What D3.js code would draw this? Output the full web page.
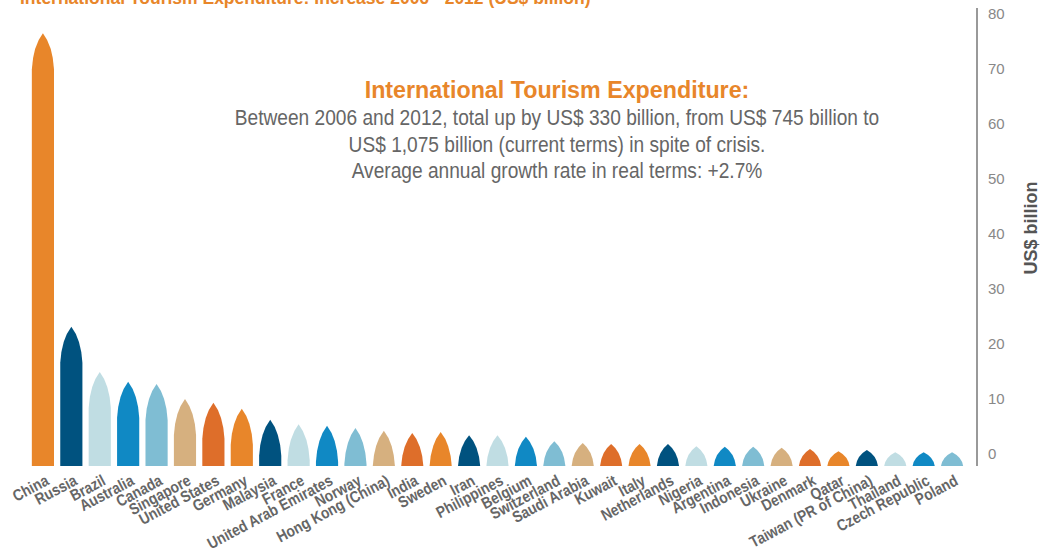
<!DOCTYPE html>
<html lang="en">
<head>
    <meta charset="UTF-8">
    <title>tourism-expenditure</title>
    <script src="https://cdn.jsdelivr.net/npm/d3@7/dist/d3.min.js"></script>
    <style>
        body { margin: 0; background: #fff; }
        svg text { font-family: "Liberation Sans", Arial, sans-serif; }
        .country { font-weight: bold; font-size: 16px; fill: #666; }
        .tick-label { font-size: 15px; fill: #888; }
    </style>
</head>
<body>
<svg class="chart"></svg>
<script>
    var width = 1042, height = 557;

    // countries, ordered by increase
    var countries = ['China', 'Russia', 'Brazil', 'Australia', 'Canada', 'Singapore', 'United States',
        'Germany', 'Malaysia', 'France', 'United Arab Emirates', 'Norway', 'Hong Kong (China)', 'India',
        'Sweden', 'Iran', 'Philippines', 'Belgium', 'Switzerland', 'Saudi Arabia', 'Kuwait', 'Italy',
        'Netherlands', 'Nigeria', 'Argentina', 'Indonesia', 'Ukraine', 'Denmark', 'Qatar',
        'Taiwan (PR of China)', 'Thailand', 'Czech Republic', 'Poland'];

    // increase 2006-2012, US$ billion
    var increase = [78.7, 25.3, 17.1, 15.3, 14.9, 12.2, 11.5, 10.4, 8.4, 7.6, 7.3, 6.9, 6.4, 6.0,
        6.2, 5.6, 5.6, 5.3, 4.5, 4.2, 4.0, 4.0, 4.0, 3.6, 3.5, 3.5, 3.3, 3.1, 2.7, 2.9, 2.5, 2.5, 2.5];

    var yTicks = [0, 10, 20, 30, 40, 50, 60, 70, 80];

    var palette = ['#E8862A', '#00527F', '#C0DDE3', '#1089C4', '#7FBDD3', '#D6B07F', '#DE6E2A'];

    var noteLines = [
        'Between 2006 and 2012, total up by US$ 330 billion, from US$ 745 billion to',
        'US$ 1,075 billion (current terms) in spite of crisis.',
        'Average annual growth rate in real terms: +2.7%'
    ];

    var svg = d3.select('.chart')
        .attr('width', width)
        .attr('height', height);

    var x = d3.scaleBand()
        .domain(countries)
        .range([29, 966])
        .paddingInner(0.22)
        .paddingOuter(0.1);

    var y = d3.scaleLinear()
        .domain([0, 80])
        .range([466, 26]);

    // top title, clipped by the page edge
    svg.append('text')
        .attr('x', 20)
        .attr('y', 4)
        .attr('fill', '#E8862A')
        .attr('font-weight', 'bold')
        .attr('font-size', 17.5)
        .text('International Tourism Expenditure: Increase 2006 - 2012 (US$ billion)');

    // pointed bars
    function barPath(d, i) {
        var x0 = x(countries[i]), w = x.bandwidth(), x1 = x0 + w, xc = x0 + w / 2;
        var base = y(0), top = y(d);
        var a = Math.min(base - top, 36);
        var s = top + a;
        return 'M' + x0 + ',' + base +
            'L' + x0 + ',' + s +
            'Q' + (x0 + w * 0.06) + ',' + (top + a * 0.35) + ' ' + xc + ',' + top +
            'Q' + (x1 - w * 0.06) + ',' + (top + a * 0.35) + ' ' + x1 + ',' + s +
            'L' + x1 + ',' + base + 'Z';
    }

    svg.append('g')
        .selectAll('path')
        .data(increase)
        .enter()
        .append('path')
        .attr('d', barPath)
        .attr('fill', function (d, i) { return palette[i % palette.length]; });

    // country labels (condensed look via horizontal squeeze)
    svg.append('g')
        .selectAll('text')
        .data(countries)
        .enter()
        .append('text')
        .attr('class', 'country')
        .attr('text-anchor', 'end')
        .attr('transform', function (d) {
            return 'translate(' + (x(d) + x.bandwidth() / 2 + 7) + ',484) rotate(-28) scale(0.86,1)';
        })
        .text(function (d) { return d; });

    // right axis
    svg.append('line')
        .attr('x1', 977).attr('x2', 977)
        .attr('y1', 8).attr('y2', 466)
        .attr('stroke', '#999')
        .attr('stroke-width', 2);

    svg.append('g')
        .selectAll('text')
        .data(yTicks)
        .enter()
        .append('text')
        .attr('class', 'tick-label')
        .attr('x', 988)
        .attr('y', function (d) { return y(d) - 12; })
        .attr('dy', '0.35em')
        .text(function (d) { return d; });

    svg.append('text')
        .attr('transform', 'translate(1037,228) rotate(-90)')
        .attr('text-anchor', 'middle')
        .attr('font-weight', 'bold')
        .attr('font-size', 18)
        .attr('fill', '#555')
        .text('US$ billion');

    // annotation
    svg.append('text')
        .attr('transform', 'translate(557,98) scale(0.95,1)')
        .attr('text-anchor', 'middle')
        .attr('font-weight', 'bold')
        .attr('font-size', 24.5)
        .attr('fill', '#E8862A')
        .text('International Tourism Expenditure:');

    svg.append('g')
        .selectAll('text')
        .data(noteLines)
        .enter()
        .append('text')
        .attr('transform', function (d, i) { return 'translate(557,' + (125 + i * 26.5) + ') scale(0.87,1)'; })
        .attr('text-anchor', 'middle')
        .attr('font-size', 22)
        .attr('fill', '#666')
        .text(function (d) { return d; });
</script>
</body>
</html>
